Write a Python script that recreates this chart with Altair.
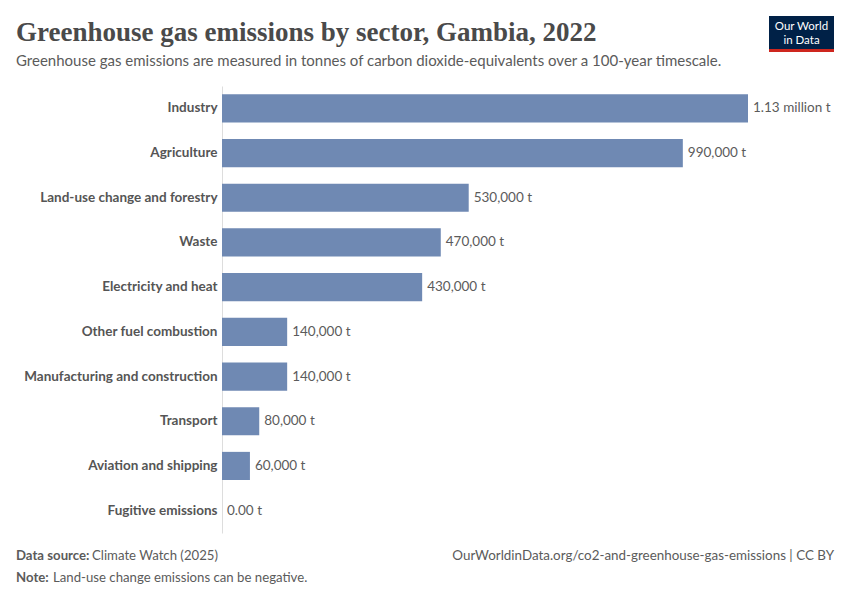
import altair as alt
import pandas as pd

sectors = ["Industry", "Agriculture", "Land-use change and forestry", "Waste",
           "Electricity and heat", "Other fuel combustion",
           "Manufacturing and construction", "Transport",
           "Aviation and shipping", "Fugitive emissions"]
values = [1130000, 990000, 530000, 470000, 430000, 140000, 140000, 80000, 60000, 0]
value_labels = ["1.13 million t", "990,000 t", "530,000 t", "470,000 t", "430,000 t",
                "140,000 t", "140,000 t", "80,000 t", "60,000 t", "0.00 t"]

title_text = "Greenhouse gas emissions by sector, Gambia, 2022"
subtitle_text = "Greenhouse gas emissions are measured in tonnes of carbon dioxide-equivalents over a 100-year timescale."
source_label = "Data source:"
source_text = "Climate Watch (2025)"
note_label = "Note:"
note_text = "Land-use change emissions can be negative."
url_text = "OurWorldinData.org/co2-and-greenhouse-gas-emissions | CC BY"
logo_lines = ["Our World", "in Data"]

df = pd.DataFrame({"sector": sectors, "value": values, "label": value_labels})

W = 526
H = 447
GRAY = "#5b5b5b"

y_enc = alt.Y("sector:N", sort=sectors, title=None,
              scale=alt.Scale(paddingInner=0.37, paddingOuter=0.185),
              axis=alt.Axis(ticks=False, tickSize=0, labelPadding=5,
                            labelFont="Lato", labelFontSize=13.5, labelFontWeight="bold",
                            labelColor="#555555", domainColor="#dddddd", domainWidth=1,
                            grid=False, labelLimit=300))
x_enc = alt.X("value:Q", scale=alt.Scale(domain=[0, 1130000], nice=False), axis=None)

bars = alt.Chart(df).mark_bar(color="#6f89b3").encode(x=x_enc, y=y_enc)
vlabels = alt.Chart(df).mark_text(align="left", baseline="middle", dx=5, font="Lato",
                                  fontSize=13.5, color=GRAY).encode(x=x_enc, y=y_enc, text="label:N")


def txt(s, x, y, size, color=GRAY, weight="normal", font="Lato", align="left"):
    return alt.Chart(pd.DataFrame({"t": [s]})).mark_text(
        align=align, baseline="alphabetic", font=font, fontSize=size,
        fontWeight=weight, color=color).encode(
        x=alt.value(x), y=alt.value(y), text="t:N")


title = txt(title_text, -206, -45, 27, color="#4a4a4a", weight="bold", font="Liberation Serif")
subtitle = txt(subtitle_text, -206, -20, 15)
src1 = txt(source_label, -206, 474, 13.2, weight="bold")
src2 = txt(source_text, -130, 474, 13.2)
note1 = txt(note_label, -206, 496, 13.2, weight="bold")
note2 = txt(note_text, -169, 496, 13.2)
url = txt(url_text, 612, 474, 13.4, align="right")

logo_df = pd.DataFrame({"a": [0]})
logo_box = alt.Chart(logo_df).mark_rect(color="#002147").encode(
    x=alt.value(547), x2=alt.value(612), y=alt.value(-70), y2=alt.value(-34))
logo_red = alt.Chart(logo_df).mark_rect(color="#ce261e").encode(
    x=alt.value(547), x2=alt.value(612), y=alt.value(-37), y2=alt.value(-34))
logo_t1 = txt(logo_lines[0], 579.5, -56, 11.5, color="white", align="center")
logo_t2 = txt(logo_lines[1], 579.5, -42, 11.5, color="white", align="center")

chart = alt.layer(bars, vlabels, title, subtitle, src1, src2, note1, note2, url,
                  logo_box, logo_red, logo_t1, logo_t2).properties(
    width=W, height=H,
    autosize=alt.AutoSizeParams(type="none"),
    padding={"left": 214, "top": 78, "right": 94, "bottom": 59},
).configure_view(stroke=None)

chart.save("out.html", embed_options={"renderer": "svg", "actions": False})
